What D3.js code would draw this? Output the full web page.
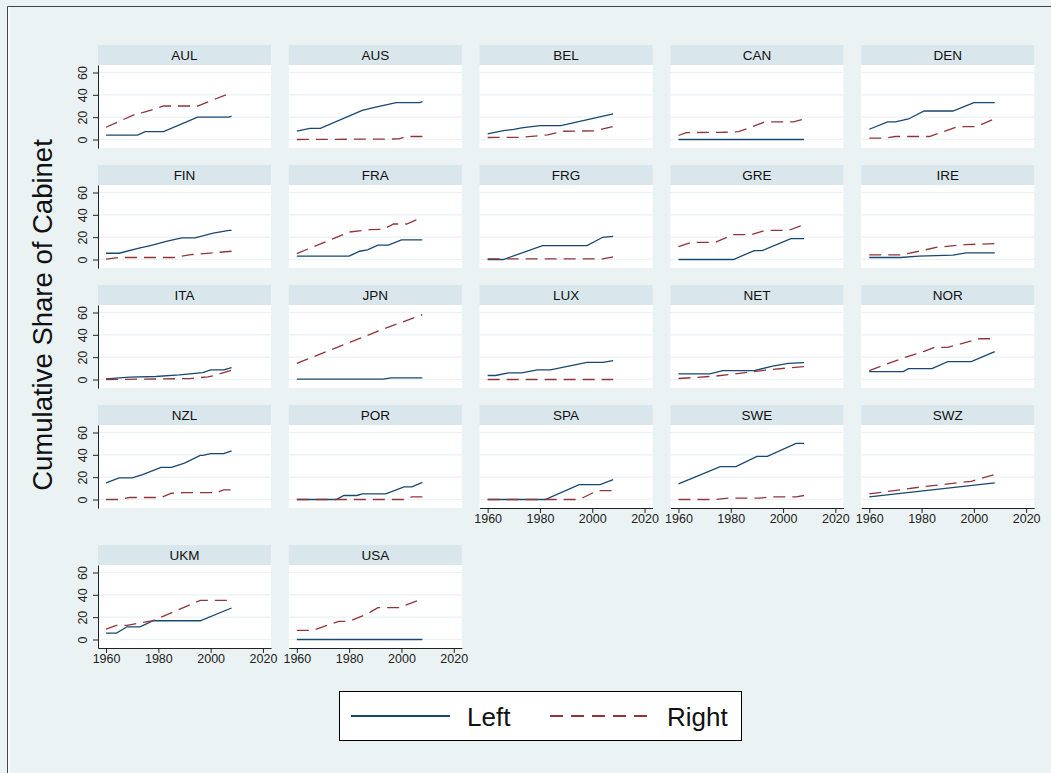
<!DOCTYPE html>
<html>
<head>
<meta charset="utf-8">
<script src="https://cdn.jsdelivr.net/npm/d3@7"></script>
<style>
  body { margin: 0; background: #EAF2F3; }
  svg { display: block; font-family: "Liberation Sans", Arial, sans-serif; }
</style>
</head>
<body>
<svg id="chart"></svg>
<script>
let navy = "#1a476f";
let maroon = "#90353b";
let bgColor = "#EAF2F3";
let stripColor = "#D9E6EB";
let gridColor = "#EAF2F3";

// countries in panel order
const countries = ["AUL", "AUS", "BEL", "CAN", "DEN", "FIN", "FRA", "FRG", "GRE", "IRE",
  "ITA", "JPN", "LUX", "NET", "NOR", "NZL", "POR", "SPA", "SWE", "SWZ", "UKM", "USA"];

const yTicks = [0, 20, 40, 60];
const xTicks = [1960, 1980, 2000, 2020];

// [year, cumulative share] for the Left series, same order as countries
const leftShare = [
  [[1960, 4], [1972, 4], [1975, 7], [1982, 7], [1995, 20], [2007, 20], [2008, 21]],
  [[1960, 7.5], [1965, 10], [1969, 10], [1985, 26], [1991, 29.5], [1998, 33], [2007, 33], [2008, 34]],
  [[1960, 5], [1966, 8], [1970, 9], [1973, 10.5], [1980, 12.5], [1988, 12.5], [2008, 23]],
  [[1960, 0], [2008, 0]],
  [[1960, 9.2], [1967, 15.7], [1970, 15.7], [1975, 18.4], [1981, 25.5], [1992, 25.5], [2000, 33], [2008, 33]],
  [[1960, 5.6], [1965, 5.6], [1973, 10.4], [1977, 12.5], [1983, 16.3], [1989, 19.3], [1994, 19.3], [2001, 23.7], [2007, 26], [2008, 26]],
  [[1960, 3], [1980, 3], [1984, 7.4], [1987, 8.6], [1991, 12.8], [1995, 12.8], [2000, 17.5], [2008, 17.5]],
  [[1960, 0], [1966, 0], [1981, 12.5], [1998, 12.5], [2004, 19.9], [2008, 20.8]],
  [[1960, 0], [1981, 0], [1989, 8], [1992, 8], [2003, 18.7], [2008, 18.7]],
  [[1960, 1.8], [1972, 1.8], [1979, 3], [1992, 3.9], [1997, 5.9], [2008, 5.9]],
  [[1960, 0.6], [1969, 2.1], [1979, 2.7], [1988, 4.2], [1997, 6.2], [2000, 8.6], [2005, 8.6], [2008, 10.7]],
  [[1960, 0.3], [1993, 0.3], [1996, 1.5], [2008, 1.5]],
  [[1960, 3.6], [1963, 3.6], [1968, 5.9], [1973, 5.9], [1979, 8.6], [1984, 8.6], [1998, 15.4], [2004, 15.4], [2008, 16.9]],
  [[1960, 5], [1972, 5], [1977, 8], [1989, 8], [1996, 11.9], [2002, 14.5], [2008, 15.1]],
  [[1960, 7.1], [1973, 7.1], [1975, 9.8], [1984, 9.8], [1990, 16], [1999, 16], [2008, 24.9]],
  [[1960, 14.8], [1965, 19.3], [1970, 19.3], [1974, 22.3], [1981, 28.8], [1985, 28.8], [1990, 32.6], [1996, 39.5], [1997, 39.5], [2000, 41], [2005, 41], [2008, 43.6]],
  [[1960, 0], [1975, 0], [1978, 3.6], [1983, 3.6], [1985, 5], [1994, 5], [2001, 11.3], [2004, 11.3], [2008, 15.4]],
  [[1960, 0], [1982, 0], [1995, 13.4], [2003, 13.4], [2008, 17.8]],
  [[1960, 14], [1976, 29.4], [1982, 29.4], [1990, 38.6], [1994, 38.6], [2005, 50.2], [2008, 50.2]],
  [[1960, 2.4], [2008, 14.8]],
  [[1960, 5.7], [1964, 5.7], [1968, 11.4], [1973, 11.4], [1978, 16.8], [1996, 16.8], [2008, 28.2]],
  [[1960, 0], [2008, 0]]
];

// [year, cumulative share] for the Right series
const rightShare = [
  [[1960, 11], [1972, 23.5], [1974, 24], [1982, 30], [1995, 30], [2008, 42]],
  [[1960, 0], [1985, 0.3], [1999, 0.5], [2002, 2.7], [2008, 2.7]],
  [[1960, 1.8], [1973, 2], [1983, 4.2], [1989, 7.4], [2001, 7.8], [2008, 11.6]],
  [[1960, 3.6], [1963, 6.2], [1977, 6.5], [1983, 7], [1993, 15.7], [2004, 15.7], [2008, 18.4]],
  [[1960, 1.2], [1966, 1.2], [1970, 2.7], [1983, 2.7], [1994, 11.6], [2001, 11.6], [2008, 18.7]],
  [[1960, 0.3], [1965, 1.8], [1986, 1.8], [1993, 4.5], [2008, 7.4]],
  [[1960, 5.3], [1980, 24.6], [1988, 26.7], [1993, 27], [1997, 31.8], [2002, 31.8], [2008, 37.7]],
  [[1960, 0.5], [2004, 0.5], [2008, 2.4]],
  [[1960, 11.6], [1965, 15.4], [1974, 15.4], [1981, 22.3], [1988, 22.3], [1993, 26], [2002, 26], [2008, 31.2]],
  [[1960, 4.2], [1972, 4.2], [1979, 7.4], [1986, 11], [1997, 13.4], [2008, 14.2]],
  [[1960, 0], [1992, 0.8], [1999, 2.4], [2002, 3.9], [2008, 8.3]],
  [[1960, 14.5], [1994, 46], [2008, 58]],
  [[1960, 0], [2008, 0]],
  [[1960, 0.9], [1974, 3], [1988, 6.8], [1995, 8.9], [2008, 11.6]],
  [[1960, 8], [1973, 19.3], [1981, 25.2], [1985, 28.8], [1990, 28.8], [2002, 36.5], [2008, 36.5]],
  [[1960, 0], [1965, 0], [1969, 1.8], [1981, 1.8], [1985, 5.6], [1990, 6.2], [2002, 6.2], [2005, 8.6], [2008, 8.6]],
  [[1960, 0], [2001, 0], [2004, 2.4], [2008, 2.4]],
  [[1960, 0], [1995, 0], [2002, 8], [2008, 8]],
  [[1960, 0], [1974, 0], [1979, 1.2], [1991, 1.2], [1995, 2.4], [2005, 2.4], [2008, 3.6]],
  [[1960, 5], [1980, 11.3], [1999, 16.3], [2008, 22.3]],
  [[1960, 9.3], [1964, 12.6], [1968, 12.6], [1978, 17], [1996, 35], [2008, 35]],
  [[1960, 8.1], [1966, 8.1], [1976, 16.2], [1980, 16.2], [1987, 23], [1991, 28.5], [1999, 28.5], [2008, 36.3]]
];

const width = 1051;
const height = 773;

const nCols = 5;
const colLeft = 98;
const colPitch = 190.8;
const panelW = 173;
const stripH = 20;
const plotH = 83;
const rowTops = [45, 165, 285, 405, 545];

const svg = d3.select("#chart")
  .attr("width", width)
  .attr("height", height);

// background + outer frame (only top/left visible)
svg.append("rect")
  .attr("width", width)
  .attr("height", height)
  .attr("fill", bgColor);

svg.append("rect")
  .attr("x", 8)
  .attr("y", 7)
  .attr("width", 2)
  .attr("height", height)
  .attr("fill", "#f8fbfb");

svg.append("path")
  .attr("d", `M7.5,${height} V6.5 H${width}`)
  .attr("fill", "none")
  .attr("stroke", "#444")
  .attr("stroke-width", 1);

const xScale = d3.scaleLinear()
  .domain([1956.92, 2023.08])
  .range([0, panelW]);

const yScale = d3.scaleLinear()
  .domain([-7.6, 66.7])
  .range([plotH, 0]);

const line = d3.line()
  .x(d => xScale(d[0]))
  .y(d => yScale(d[1]));

countries.forEach((country, i) => {
  const col = i % nCols;
  const row = Math.floor(i / nCols);

  const panel = svg.append("g")
    .attr("transform", `translate(${colLeft + col * colPitch}, ${rowTops[row]})`);

  //strip
  panel.append("rect")
    .attr("width", panelW)
    .attr("height", stripH)
    .attr("fill", stripColor);

  panel.append("text")
    .attr("x", panelW / 2)
    .attr("y", 14.5)
    .attr("text-anchor", "middle")
    .style("font-size", "13.5px")
    .attr("fill", "#111")
    .text(country);

  const g = panel.append("g")
    .attr("transform", `translate(0, ${stripH})`);

  g.append("rect")
    .attr("width", panelW)
    .attr("height", plotH)
    .attr("fill", "#fff");

  //grid
  g.selectAll(".grid")
    .data(yTicks)
    .enter()
    .append("line")
    .attr("x1", 0)
    .attr("x2", panelW)
    .attr("y1", d => yScale(d))
    .attr("y2", d => yScale(d))
    .attr("stroke", gridColor)
    .attr("stroke-width", 1.2);

  //lines
  g.append("path")
    .datum(leftShare[i])
    .attr("d", line)
    .attr("fill", "none")
    .attr("stroke", navy)
    .attr("stroke-width", 1.3);

  g.append("path")
    .datum(rightShare[i])
    .attr("d", line)
    .attr("fill", "none")
    .attr("stroke", maroon)
    .attr("stroke-width", 1.3)
    .attr("stroke-dasharray", "12,7");

  //y axis on first column
  if (col === 0) {
    const ya = g.append("g")
      .call(d3.axisLeft(yScale)
        .tickValues(yTicks)
        .tickSize(5)
        .tickSizeOuter(0));
    ya.select(".domain").attr("stroke", "#222");
    ya.selectAll(".tick line").attr("stroke", "#222");
    ya.selectAll(".tick text")
      .attr("transform", "rotate(-90)")
      .attr("x", 0)
      .attr("y", -11)
      .attr("dy", 0)
      .attr("text-anchor", "middle")
      .attr("fill", "#222")
      .style("font-size", "12.5px")
      .style("font-family", "Liberation Sans, Arial, sans-serif");
  }

  //x axis where no panel below
  if (i + nCols >= countries.length) {
    const xa = g.append("g")
      .attr("transform", `translate(0, ${plotH})`)
      .call(d3.axisBottom(xScale)
        .tickValues(xTicks)
        .tickFormat(d3.format("d"))
        .tickSize(5)
        .tickSizeOuter(0)
        .tickPadding(1.5));
    xa.select(".domain").attr("stroke", "#222");
    xa.selectAll(".tick line").attr("stroke", "#222");
    xa.selectAll(".tick text")
      .attr("fill", "#222")
      .style("font-size", "12.5px")
      .style("font-family", "Liberation Sans, Arial, sans-serif");
  }
});

// y axis title
svg.append("text")
  .attr("transform", "translate(52, 315) rotate(-90)")
  .attr("text-anchor", "middle")
  .style("font-size", "27.5px")
  .attr("fill", "#111")
  .text("Cumulative Share of Cabinet");

// legend
const legend = svg.append("g");

legend.append("rect")
  .attr("x", 339.5)
  .attr("y", 691.5)
  .attr("width", 402)
  .attr("height", 49)
  .attr("fill", "#fff")
  .attr("stroke", "#000")
  .attr("stroke-width", 1);

legend.append("line")
  .attr("x1", 351).attr("x2", 450)
  .attr("y1", 716).attr("y2", 716)
  .attr("stroke", navy)
  .attr("stroke-width", 2);

legend.append("text")
  .attr("x", 467)
  .attr("y", 725.5)
  .style("font-size", "26px")
  .attr("fill", "#111")
  .text("Left");

legend.append("line")
  .attr("x1", 550).attr("x2", 650)
  .attr("y1", 716).attr("y2", 716)
  .attr("stroke", maroon)
  .attr("stroke-width", 2)
  .attr("stroke-dasharray", "13,8");

legend.append("text")
  .attr("x", 667)
  .attr("y", 725.5)
  .style("font-size", "26px")
  .attr("fill", "#111")
  .text("Right");
</script>
</body>
</html>
